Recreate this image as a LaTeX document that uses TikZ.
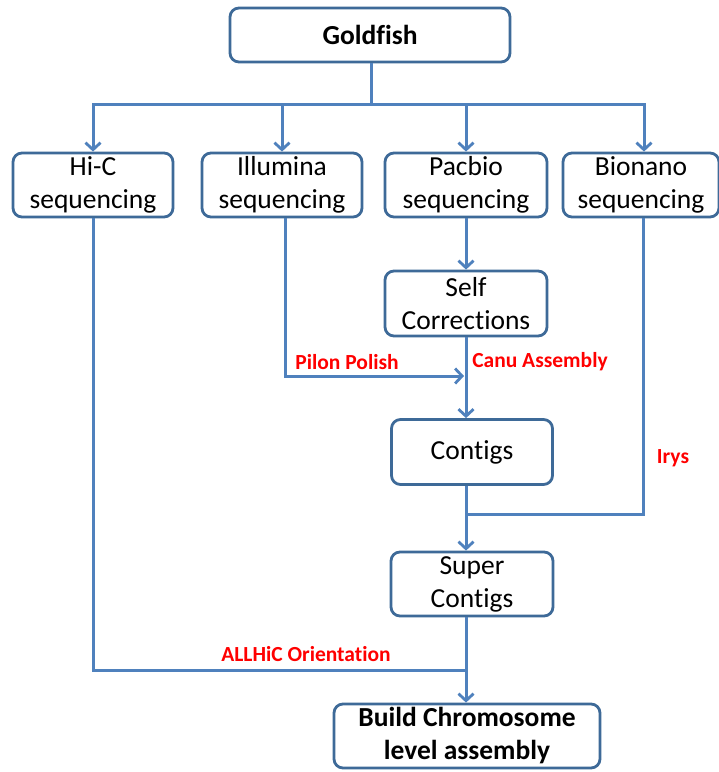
\documentclass[tikz,border=0pt]{standalone}
\usepackage{fontspec}
\setmainfont[Ligatures=NoCommon]{Carlito}
\usetikzlibrary{arrows.meta}
\definecolor{linec}{HTML}{4F81BD}
\definecolor{boxc}{HTML}{3E6A98}
\definecolor{redc}{HTML}{FF0000}
\tikzset{
  box/.style={draw=boxc, line width=2.8pt, rounded corners=9pt, fill=white, align=center, inner sep=0pt,
              font=\fontsize{27.5}{33}\selectfont},
  boldbox/.style={box, font=\fontsize{27.5}{33}\selectfont\bfseries},
  conn/.style={draw=linec, line width=3pt},
  arr/.style={conn, -{Straight Barb[length=7pt,width=15pt,line width=2.8pt]}},
  lbl/.style={text=redc, font=\fontsize{21.5}{24}\selectfont\bfseries, inner sep=0pt}
}
\begin{document}
\begin{tikzpicture}[x=1pt,y=-1pt]
\path[use as bounding box, fill=white] (0,0) rectangle (719,772);
% boxes
\node[boldbox, minimum width=280pt, minimum height=54pt] (gold) at (370,35) {Goldfish};
\node[box, minimum width=160pt, minimum height=64pt] (hic) at (93,185) {Hi-C\\sequencing};
\node[box, minimum width=160pt, minimum height=64pt] (ill) at (282,185) {Illumina\\sequencing};
\node[box, minimum width=162pt, minimum height=64pt] (pac) at (466,185) {Pacbio\\sequencing};
\node[box, minimum width=156pt, minimum height=64pt] (bio) at (641,185) {Bionano\\sequencing};
\node[box, minimum width=162pt, minimum height=65pt] (self) at (466,303.5) {Self\\Corrections};
\node[box, minimum width=161pt, minimum height=65pt] (cont) at (472,452) {Contigs};
\node[box, minimum width=162pt, minimum height=64pt] (sup) at (472,584) {Super\\Contigs};
\node[boldbox, minimum width=266pt, minimum height=64pt] (build) at (467,736) {Build Chromosome\\level assembly};
% junction coordinates
\coordinate (hub) at (371,104);
\coordinate (pj) at (464,376);
\coordinate (bj) at (466,514);
\coordinate (aj) at (466,670);
% connectors
\draw[conn] (gold.south -| hub) -- (hub);
\draw[arr] (hub) -| (hic.north);
\draw[arr] (hub) -| (ill.north);
\draw[arr] (hub) -| (pac.north);
\draw[arr] (hub) -| ([xshift=3pt]bio.north);
\draw[arr] (pac.south) -- (self.north);
\draw[arr] (self.south) -- (self.south |- cont.north);
\draw[arr] ([xshift=3pt]ill.south) |- (pj);
\draw[conn] ([xshift=2pt]bio.south) |- (bj);
\draw[arr] (self.south |- cont.south) -- (self.south |- sup.north);
\draw[arr] (self.south |- sup.south) -- (self.south |- build.north);
\draw[conn] (hic.south) |- (aj);
% labels
\node[lbl] (lpilon) at (347,362) {Pilon Polish};
\node[lbl] (lcanu) at (540,362) {Canu Assembly};
\node[lbl] (lirys) at (673,458) {Irys};
\node[lbl] (lallhic) at (306,654) {ALLHiC Orientation};
\end{tikzpicture}
\end{document}
